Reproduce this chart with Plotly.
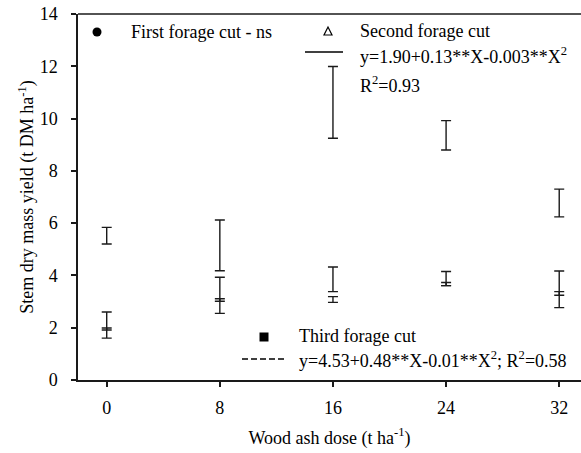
import plotly.graph_objects as go

# Wood ash doses (t ha-1)
doses = [0, 8, 16, 24, 32]

# Stem dry mass yield (t DM ha-1): means and error half-widths per forage cut
first_cut_mean = [2.10, 3.24, 3.85, 3.88, 3.47]
first_cut_err = [0.50, 0.69, 0.47, 0.27, 0.70]

second_cut_mean = [1.95, 3.06, 3.08, 3.67, 3.31]
second_cut_err = [0.04, 0.05, 0.11, 0.06, 0.07]

third_cut_mean = [5.52, 5.15, 10.62, 9.36, 6.77]
third_cut_err = [0.32, 0.97, 1.37, 0.56, 0.53]

x_ticks = [0, 8, 16, 24, 32]
y_ticks = [0, 2, 4, 6, 8, 10, 12, 14]

W, H = 581, 453
ML, MR, MT, MB = 78, 0, 14, 73
PW, PH = W - ML - MR, H - MT - MB

FONT = "Times New Roman, Liberation Serif, serif"
INK = "#1a1a1a"


def px(x):
    return (x - ML) / PW


def py(y):
    return (H - MB - y) / PH


fig = go.Figure()

for mean, err in [(third_cut_mean, third_cut_err),
                  (first_cut_mean, first_cut_err),
                  (second_cut_mean, second_cut_err)]:
    fig.add_trace(go.Scatter(
        x=doses, y=mean, mode="markers",
        marker=dict(size=1, color="rgba(0,0,0,0)"),
        error_y=dict(type="data", array=err, visible=True,
                     color=INK, thickness=1.4, width=5),
        showlegend=False, hoverinfo="skip",
    ))

# Legend symbols and line samples
shapes = [
    dict(type="circle", xref="paper", yref="paper",
         x0=px(92.5), x1=px(101.5), y0=py(36.5), y1=py(27.5),
         fillcolor="black", line=dict(width=0)),
    dict(type="path", xref="paper", yref="paper",
         path=f"M {px(324)} {py(35)} L {px(332)} {py(35)} L {px(328)} {py(27)} Z",
         line=dict(color="black", width=1.2)),
    dict(type="rect", xref="paper", yref="paper",
         x0=px(259.5), x1=px(268.5), y0=py(341.5), y1=py(332.5),
         fillcolor="black", line=dict(width=0)),
    dict(type="line", xref="paper", yref="paper",
         x0=px(305), x1=px(343), y0=py(52), y1=py(52),
         line=dict(color="black", width=1.5)),
    dict(type="line", xref="paper", yref="paper",
         x0=px(242), x1=px(286), y0=py(359), y1=py(359),
         line=dict(color="black", width=1.5, dash="6px,3px")),
    # top frame line
    dict(type="line", xref="paper", yref="paper", x0=0, x1=1, y0=1, y1=1,
         line=dict(color=INK, width=1.5)),
]

labels = [
    ("First forage cut - ns", 129, 32),
    ("Second forage cut", 358, 31),
    ("y=1.90+0.13**X-0.003**X<sup>2</sup>", 358, 55),
    ("R<sup>2</sup>=0.93", 358, 84),
    ("Third forage cut", 297, 336),
    ("y=4.53+0.48**X-0.01**X<sup>2</sup>; R<sup>2</sup>=0.58", 297, 359),
]
annotations = [
    dict(text=t, x=px(x), y=py(y), xref="paper", yref="paper",
         xanchor="left", yanchor="middle", showarrow=False,
         font=dict(family=FONT, size=18, color="black"))
    for t, x, y in labels
]

axis_common = dict(
    showline=True, linecolor=INK, linewidth=1.5,
    ticks="outside", ticklen=5, tickwidth=1.5, tickcolor=INK,
    showgrid=False, zeroline=False,
    tickfont=dict(family=FONT, size=18, color="black"),
)

fig.update_layout(
    width=W, height=H,
    margin=dict(l=ML, r=MR, t=MT, b=MB),
    paper_bgcolor="white", plot_bgcolor="white",
    font=dict(family=FONT, size=18, color="black"),
    shapes=shapes, annotations=annotations,
    xaxis=dict(range=[-2.03, 33.54], tickvals=x_ticks, mirror=False,
               ticklabelstandoff=6,
               title=dict(text="Wood ash dose (t ha<sup>-1</sup>)",
                          font=dict(family=FONT, size=18, color="black"),
                          standoff=14),
               **axis_common),
    yaxis=dict(range=[0, 14], tickvals=y_ticks,
               ticklabelstandoff=10,
               title=dict(text="Stem dry mass yield (t DM ha<sup>-1</sup>)",
                          font=dict(family=FONT, size=18, color="black"),
                          standoff=1),
               **axis_common),
)

fig.write_html("out.html")
